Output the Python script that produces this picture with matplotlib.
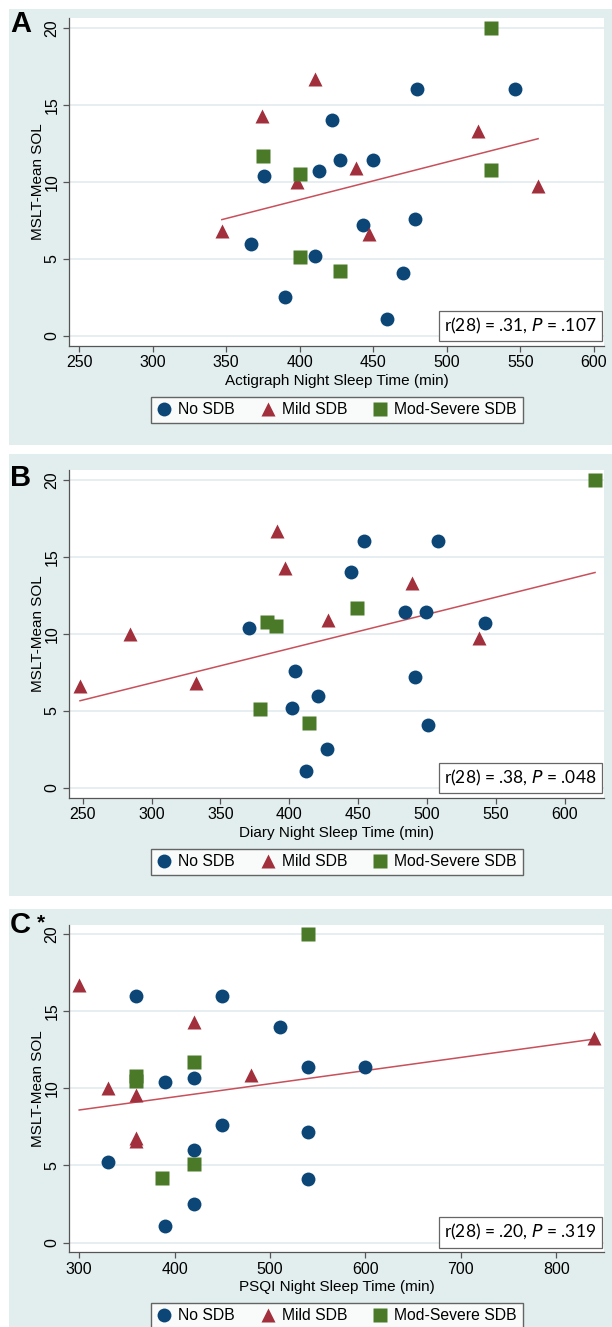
import matplotlib.pyplot as plt
from matplotlib.lines import Line2D
from matplotlib.patches import Rectangle

W, H = 612, 1327

# ---- data ----
# Panel A: actigraph night sleep time
a_no_x = [367, 376, 390, 410, 413, 422, 427, 450, 443, 459, 470, 478, 480, 546]
a_no_y = [6.0, 10.4, 2.5, 5.2, 10.7, 14.0, 11.4, 11.4, 7.2, 1.1, 4.1, 7.6, 16.0, 16.0]
a_mild_x = [347, 374, 398, 410, 438, 447, 521, 562]
a_mild_y = [6.8, 14.3, 10.0, 16.7, 10.9, 6.6, 13.3, 9.7]
a_mod_x = [375, 400, 400, 427, 530, 530]
a_mod_y = [11.7, 10.5, 5.1, 4.2, 20.0, 10.8]
a_fit_x = [347, 562]
a_fit_y = [7.55, 12.8]

# Panel B: diary night sleep time
b_no_x = [371, 404, 402, 421, 427, 412, 445, 454, 484, 499, 491, 501, 508, 542]
b_no_y = [10.4, 7.6, 5.2, 6.0, 2.5, 1.1, 14.0, 16.0, 11.4, 11.4, 7.2, 4.1, 16.0, 10.7]
b_mild_x = [248, 284, 332, 391, 397, 428, 489, 538]
b_mild_y = [6.6, 10.0, 6.8, 16.7, 14.3, 10.9, 13.3, 9.7]
b_mod_x = [384, 390, 379, 414, 449, 622]
b_mod_y = [10.8, 10.5, 5.1, 4.2, 11.7, 20.0]
b_fit_x = [248, 622]
b_fit_y = [5.66, 13.98]

# Panel C: PSQI night sleep time
c_no_x = [360, 450, 510, 540, 600, 390, 420, 450, 540, 330, 420, 540, 420, 390]
c_no_y = [16.0, 16.0, 14.0, 11.4, 11.4, 10.4, 10.7, 7.6, 7.2, 5.2, 6.0, 4.1, 2.5, 1.1]
c_mild_x = [300, 420, 840, 480, 330, 360, 360, 360]
c_mild_y = [16.7, 14.3, 13.3, 10.9, 10.0, 9.6, 6.8, 6.6]
c_mod_x = [540, 420, 360, 360, 420, 387]
c_mod_y = [20.0, 11.7, 10.8, 10.5, 5.1, 4.2]
c_fit_x = [300, 840]
c_fit_y = [8.6, 13.2]

y_ticks = [0, 5, 10, 15, 20]
a_xticks = [250, 300, 350, 400, 450, 500, 550, 600]
b_xticks = [250, 300, 350, 400, 450, 500, 550, 600]
c_xticks = [300, 400, 500, 600, 700, 800]

group_labels = ["No SDB", "Mild SDB", "Mod-Severe SDB"]

NAVY = "#0b4677"
MAROON = "#a2303c"
GREEN = "#4a7a28"
FIT = "#c8505a"
BG = "#e2eeee"

plt.rcParams['font.family'] = ['Liberation Sans', 'DejaVu Sans']

fig = plt.figure(figsize=(W / 100, H / 100), dpi=100)
fig.patch.set_facecolor("white")


def px_axes(left, top, right, bottom):
    return fig.add_axes([left / W, 1 - bottom / H, (right - left) / W, (bottom - top) / H])


def panel_bg(top, bottom):
    fig.add_artist(Rectangle((9 / W, 1 - bottom / H), (W - 9) / W, (bottom - top) / H,
                             transform=fig.transFigure, facecolor=BG, edgecolor="none", zorder=0))


def draw_panel(box, xlim, xticks, xlabel, no, mild, mod, fit, stat, letter, ltop, leg_y):
    ax = px_axes(*box)
    ax.set_facecolor("white")
    for y in y_ticks:
        ax.axhline(y, color="#e4edf0", lw=1.3, zorder=0)
    ax.plot(fit[0], fit[1], color=FIT, lw=1.1, zorder=2)
    ax.plot(no[0], no[1], "o", color=NAVY, ms=10, mec="none", zorder=3)
    ax.plot(mild[0], mild[1], "^", color=MAROON, ms=10.5, mec="none", zorder=3)
    ax.plot(mod[0], mod[1], "s", color=GREEN, ms=9.5, mec="none", zorder=3)
    ax.set_xlim(xlim)
    ax.set_ylim(-0.63, 20.63)
    ax.set_xticks(xticks)
    ax.set_yticks(y_ticks)
    for s in ["top", "right"]:
        ax.spines[s].set_visible(False)
    for s in ["left", "bottom"]:
        ax.spines[s].set_color("#555555")
        ax.spines[s].set_linewidth(0.9)
    ax.tick_params(direction="out", length=4, width=0.9, color="#555555",
                   labelsize=11.5, pad=3)
    for lab in ax.get_yticklabels():
        lab.set_rotation(90)
        lab.set_va("center")
    ax.set_xlabel(xlabel, fontsize=11)
    ax.xaxis.set_label_coords(0.5, -0.085)
    ax.set_ylabel("MSLT-Mean SOL", fontsize=11)
    ax.yaxis.set_label_coords(-0.045, 0.5)
    ax.text(0.986, 0.03, stat, transform=ax.transAxes, ha="right", va="bottom",
            fontsize=12.5, family="Lato",
            bbox=dict(boxstyle="square,pad=0.3", facecolor="white", edgecolor="#666666", lw=0.9),
            zorder=4)
    fig.text(10 / W, 1 - ltop / H, letter, fontsize=21, fontweight="bold", va="top", ha="left")
    handles = [Line2D([], [], ls="none", marker="o", color=NAVY, ms=10, mec="none"),
               Line2D([], [], ls="none", marker="^", color=MAROON, ms=10.5, mec="none"),
               Line2D([], [], ls="none", marker="s", color=GREEN, ms=9.5, mec="none")]
    leg = fig.legend(handles, group_labels, ncol=3, loc="center",
                     bbox_to_anchor=(336.5 / W, 1 - leg_y / H), fontsize=11.3,
                     frameon=True, fancybox=False, edgecolor="#404040",
                     handletextpad=0.4, columnspacing=1.6, borderpad=0.35,
                     handlelength=1.0)
    leg.get_frame().set_linewidth(1.0)
    return ax


panel_bg(9, 445)
panel_bg(454, 896)
panel_bg(909, 1327)

draw_panel((69, 18, 604, 345.7), (243.1, 606.8), a_xticks, "Actigraph Night Sleep Time (min)",
           (a_no_x, a_no_y), (a_mild_x, a_mild_y), (a_mod_x, a_mod_y), (a_fit_x, a_fit_y),
           r"r(28) = .31, $\it{P}$ = .107", "A", 10, 410)
draw_panel((69, 470, 604, 797.7), (240.0, 628.5), b_xticks, "Diary Night Sleep Time (min)",
           (b_no_x, b_no_y), (b_mild_x, b_mild_y), (b_mod_x, b_mod_y), (b_fit_x, b_fit_y),
           r"r(28) = .38, $\it{P}$ = .048", "B", 464, 862)
draw_panel((69, 924.5, 604, 1252.3), (289.3, 850.1), c_xticks, "PSQI Night Sleep Time (min)",
           (c_no_x, c_no_y), (c_mild_x, c_mild_y), (c_mod_x, c_mod_y), (c_fit_x, c_fit_y),
           r"r(28) = .20, $\it{P}$ = .319", "C", 911, 1316)
fig.text(37 / W, 1 - 913 / H, "*", fontsize=15, fontweight="bold", va="top", ha="left")

fig.savefig("out.png", dpi=100)
